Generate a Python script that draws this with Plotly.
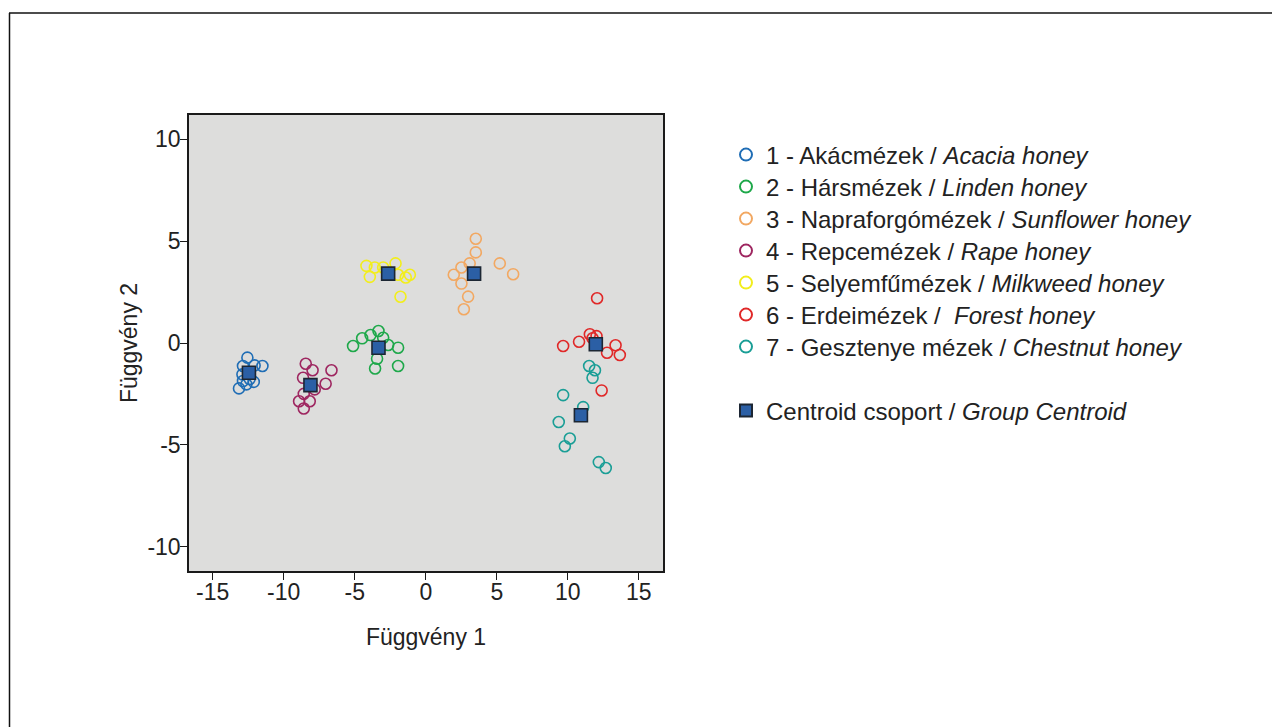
import plotly.graph_objects as go

# ---- data ----
group_names = [
    "1 - Akácmézek / <i>Acacia honey</i>",
    "2 - Hársmézek / <i>Linden honey</i>",
    "3 - Napraforgómézek / <i>Sunflower honey</i>",
    "4 - Repcemézek / <i>Rape honey</i>",
    "5 - Selyemfűmézek / <i>Milkweed honey</i>",
    "6 - Erdeimézek / &nbsp;<i>Forest honey</i>",
    "7 - Gesztenye mézek / <i>Chestnut honey</i>",
]
group_colors = ["#1f6db5", "#1ea84a", "#f2a862", "#9e2660", "#f2ee1c", "#e02828", "#1a9e96"]

acacia_x = [-12.56, -11.50, -12.87, -12.05, -12.91, -12.11, -12.63, -13.15, -12.87, -12.40]
acacia_y = [-0.72, -1.13, -1.13, -1.10, -1.54, -1.91, -2.03, -2.23, -1.87, -1.77]

linden_x = [-5.12, -4.48, -3.89, -3.33, -3.00, -2.65, -1.95, -3.43, -3.57, -1.95]
linden_y = [-0.15, 0.23, 0.39, 0.59, 0.26, -0.1, -0.23, -0.77, -1.25, -1.13]

sunflower_x = [3.52, 3.52, 2.51, 3.09, 1.97, 2.51, 5.21, 6.15, 2.98, 2.68]
sunflower_y = [5.12, 4.45, 3.71, 3.91, 3.35, 2.92, 3.91, 3.38, 2.28, 1.66]

rape_x = [-8.45, -7.97, -6.64, -8.64, -7.05, -7.82, -8.59, -8.92, -8.17, -8.59]
rape_y = [-1.02, -1.34, -1.34, -1.71, -2.00, -2.28, -2.50, -2.86, -2.86, -3.22]

milkweed_x = [-4.18, -3.59, -3.94, -3.00, -2.13, -1.95, -1.41, -1.12, -1.78]
milkweed_y = [3.79, 3.71, 3.25, 3.71, 3.91, 3.35, 3.22, 3.35, 2.27]

forest_x = [12.06, 11.55, 12.02, 11.74, 10.79, 9.67, 13.36, 12.76, 13.66, 12.38]
forest_y = [2.2, 0.43, 0.34, 0.23, 0.06, -0.15, -0.11, -0.48, -0.59, -2.33]

chestnut_x = [11.50, 11.91, 11.74, 9.67, 11.08, 9.36, 10.14, 9.79, 12.18, 12.67]
chestnut_y = [-1.13, -1.34, -1.71, -2.56, -3.15, -3.88, -4.69, -5.07, -5.85, -6.14]

centroid_x = [-12.45, -3.33, 3.40, -8.12, -2.65, 11.97, 10.92]
centroid_y = [-1.46, -0.23, 3.41, -2.07, 3.41, -0.06, -3.55]
centroid_name = "Centroid csoport / <i>Group Centroid</i>"

x_ticks = [-15, -10, -5, 0, 5, 10, 15]
y_ticks = [-10, -5, 0, 5, 10]

groups_x = [acacia_x, linden_x, sunflower_x, rape_x, milkweed_x, forest_x, chestnut_x]
groups_y = [acacia_y, linden_y, sunflower_y, rape_y, milkweed_y, forest_y, chestnut_y]

# ---- layout geometry (figure pixels; page has an 8px body margin) ----
OFF = 8
W, H = 1280, 727
L, R, T, B = 189 - OFF, 663 - OFF, 115 - OFF, 571 - OFF
pw, ph = R - L, B - T

def px(xp):
    return (xp - L) / pw

def py(yp):
    return (B - yp) / ph

legend_left = 726 - OFF
row_centers = [155, 187, 219, 251, 283, 315, 347, 411]

# ---- figure ----
fig = go.Figure()
legend_ids = ["legend"] + ["legend%d" % i for i in range(2, 9)]
for i, (name, color, xs, ys) in enumerate(zip(group_names, group_colors, groups_x, groups_y)):
    fig.add_trace(go.Scatter(
        x=xs, y=ys, mode="markers", name=name, legend=legend_ids[i],
        marker=dict(symbol="circle-open", size=11, color=color, line=dict(width=1.6, color=color)),
    ))

fig.add_trace(go.Scatter(
    x=centroid_x, y=centroid_y, mode="markers", name=centroid_name, legend=legend_ids[7],
    marker=dict(symbol="square", size=13, color="#2b5fa5", line=dict(width=1.6, color="#1c2633")),
))

axis_common = dict(
    showgrid=False, zeroline=False, showline=True, linecolor="#1a1a1a", linewidth=1.5,
    mirror=True, ticks="outside", ticklen=7, tickwidth=1.3, tickcolor="#1a1a1a",
    tickfont=dict(size=23, color="#222222"),
)

legend_layout = {}
for i, lid in enumerate(legend_ids):
    legend_layout[lid] = dict(
        x=px(legend_left), y=py(row_centers[i] - OFF), xanchor="left", yanchor="middle",
        font=dict(size=24, color="#222222"), bgcolor="rgba(0,0,0,0)",
        itemsizing="constant",
    )

fig.update_layout(
    width=W, height=H,
    margin=dict(l=L, r=W - R, t=T, b=H - B, autoexpand=False),
    paper_bgcolor="white", plot_bgcolor="#dddddc",
    font=dict(family="Liberation Sans, Arial, sans-serif", color="#222222"),
    xaxis=dict(range=[-16.67, 16.7], tickvals=x_ticks, ticktext=[str(v) for v in x_ticks],
               ticklabelstandoff=-7,
               title=dict(text="Függvény 1", font=dict(size=23, color="#222222"), standoff=25),
               **axis_common),
    yaxis=dict(range=[-11.2, 11.2], tickvals=y_ticks, ticktext=[str(v) for v in y_ticks],
               ticklabelstandoff=-5,
               title=dict(text="Függvény 2", font=dict(size=23, color="#222222"), standoff=3),
               **axis_common),
    showlegend=True,
    shapes=[
        dict(type="line", xref="paper", yref="paper", x0=px(9 - OFF), x1=px(1300), y0=py(13 - OFF), y1=py(13 - OFF),
             line=dict(color="#111111", width=1.5)),
        dict(type="line", xref="paper", yref="paper", x0=px(9.5 - OFF), x1=px(9.5 - OFF), y0=py(13 - OFF), y1=py(740),
             line=dict(color="#111111", width=1.5)),
    ],
    **legend_layout,
)

fig.write_html("out.html")
